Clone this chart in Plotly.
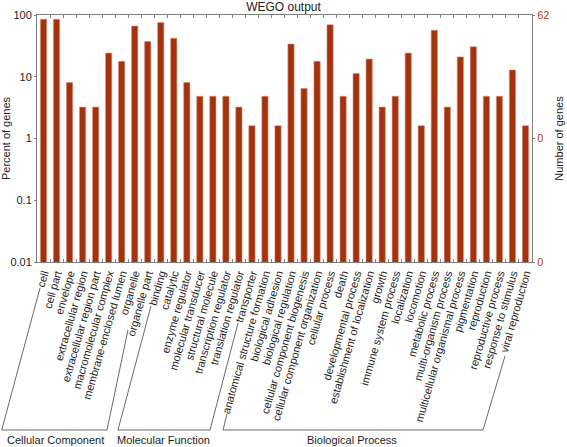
import plotly.graph_objects as go

W, H = 567, 447
L, R, T, B = 37, 35, 15, 185

categories = [
    "cell", "cell part", "envelope", "extracellular region", "extracellular region part",
    "macromolecular complex", "membrane-enclosed lumen", "organelle", "organelle part",
    "binding", "catalytic", "enzyme regulator", "molecular transducer", "structural molecule",
    "transcription regulator", "translation regulator", "transporter",
    "anatomical structure formation", "biological adhesion", "biological regulation",
    "cellular component biogenesis", "cellular component organization", "cellular process",
    "death", "developmental process", "establishment of localization", "growth",
    "immune system process", "localization", "locomotion", "metabolic process",
    "multi-organism process", "multicellular organismal process", "pigmentation",
    "reproduction", "reproductive process", "response to stimulus", "viral reproduction",
]
gene_counts = [53, 53, 5, 2, 2, 15, 11, 41, 23,
               47, 26, 5, 3, 3, 3, 2, 1,
               3, 1, 21, 4, 11, 43, 3, 7, 12, 2, 3, 15, 1, 35, 2, 13, 19, 3, 3, 8, 1]
total_genes = 62
percent = [c / total_genes * 100 for c in gene_counts]

left_ticks = [0.01, 0.1, 1, 10, 100]
left_ticktext = ["0.01", "0.1", "1", "10", "100"]
right_ticks = [100, 1, 0.01]
right_ticktext = ["62", "0", "0"]

groups = ["Cellular Component", "Molecular Function", "Biological Process"]

BAR = "#A3330E"
AX = "#7f7f7f"
FONT = "Liberation Sans, Arial, sans-serif"

pw = W - L - R
ph = H - T - B
def X(px):
    return (px - L) / pw
def Y(py):
    return (H - B - py) / ph

fig = go.Figure()
fig.add_trace(go.Bar(x=categories, y=percent, marker=dict(color=BAR, line=dict(color="#D9907A", width=0.6)),
                     width=0.48, showlegend=False, hoverinfo="x+y"))
fig.add_trace(go.Scatter(x=[categories[0]], y=[1], yaxis="y2", mode="markers",
                         marker=dict(opacity=0), showlegend=False, hoverinfo="skip"))

brackets = [
    [(40, 288), (1.7, 430), (107, 430), (128, 330)],
    [(151, 306), (118, 430), (210, 430), (238, 323)],
    [(227, 414), (223, 430), (483, 430), (505, 356)],
]
shapes = []
for pts in brackets:
    path = "M " + " L ".join(f"{X(a):.4f},{Y(b):.4f}" for a, b in pts)
    shapes.append(dict(type="path", xref="paper", yref="paper", path=path,
                       line=dict(color="#444444", width=0.8)))

label_pos = [(55, 440), (163, 440), (352, 440)]
annotations = []
for g, (a, b) in zip(groups, label_pos):
    annotations.append(dict(text=g, xref="paper", yref="paper", x=X(a), y=Y(b),
                            showarrow=False, xanchor="center", yanchor="middle",
                            font=dict(size=11, color="#222222", family=FONT)))

fig.update_layout(
    width=W, height=H,
    margin=dict(l=L, r=R, t=T, b=B, pad=0, autoexpand=False),
    paper_bgcolor="white", plot_bgcolor="white",
    font=dict(family=FONT, size=11, color="#222222"),
    title=dict(text="WEGO output", x=0.5, xanchor="center", y=1 - 7 / H, yanchor="middle",
               font=dict(size=12, family=FONT, color="#222222")),
    xaxis=dict(type="category", tickmode="linear", tick0=0, dtick=1, automargin=False,
               tickangle=-74, tickson="boundaries", ticks="inside",
               ticklen=3, tickcolor=AX, showline=True, linecolor=AX, linewidth=1,
               mirror="ticks", showgrid=False, tickfont=dict(size=11, color="#222222"),
               range=[-0.5, len(categories) - 0.5]),
    yaxis=dict(type="log", range=[-2, 2], tickvals=left_ticks, ticktext=left_ticktext,
               automargin=False,
               ticks="outside", ticklen=2, tickcolor=AX, showline=True, linecolor=AX,
               linewidth=1, showgrid=False, zeroline=False,
               title=dict(text="Percent of genes", standoff=4, font=dict(size=11)),
               tickfont=dict(size=11, color="#222222")),
    yaxis2=dict(type="log", range=[-2, 2], overlaying="y", side="right", automargin=False,
                tickvals=right_ticks, ticktext=right_ticktext, ticks="outside", ticklen=2,
                tickcolor=AX, showline=True, linecolor=AX, linewidth=1, showgrid=False,
                zeroline=False, tickfont=dict(size=11, color="#B8400F"),
                title=dict(text="Number of genes", standoff=6, font=dict(size=11))),
    bargap=0.54,
    shapes=shapes,
    annotations=annotations,
)

fig.write_html("out.html", config={"displayModeBar": False},
               post_script="document.body.style.margin='0';document.body.style.padding='0';")
